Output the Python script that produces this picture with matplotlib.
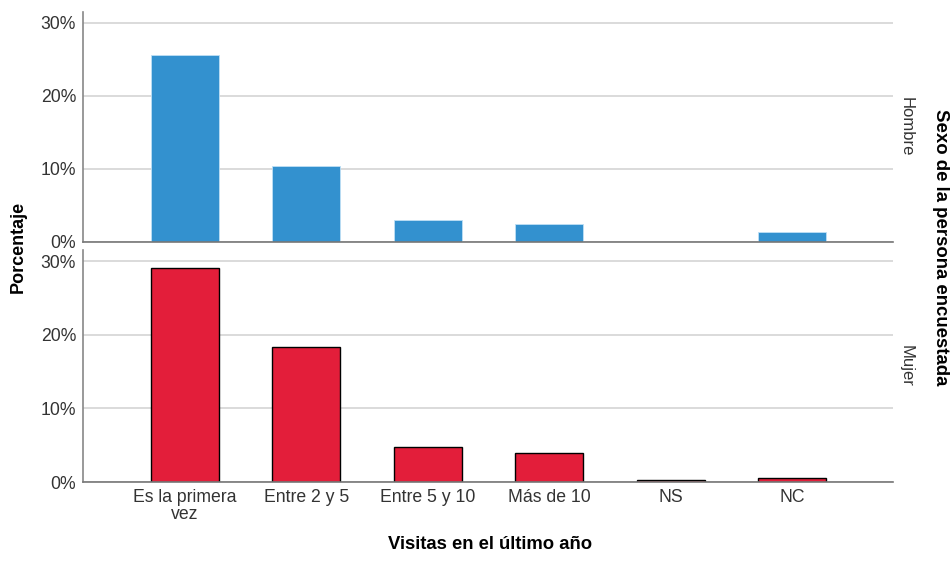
import numpy as np
import matplotlib.pyplot as plt
from matplotlib.ticker import FuncFormatter

plt.rcParams['font.family'] = ['Liberation Sans', 'DejaVu Sans']

categorias = ['Es la primera\nvez', 'Entre 2 y 5', 'Entre 5 y 10', 'Más de 10', 'NS', 'NC']
hombre = [25.6, 10.4, 3.0, 2.4, 0.0, 1.4]
mujer = [29.0, 18.3, 4.7, 3.9, 0.25, 0.5]
grupos = ['Hombre', 'Mujer']

azul = '#3391CF'
rojo = '#E31E3A'

fig = plt.figure(figsize=(9.52, 5.62), dpi=100)
ax1 = fig.add_axes([0.0872, 0.5694, 0.8508, 0.4092])
ax2 = fig.add_axes([0.0872, 0.1423, 0.8508, 0.4127])

x = np.arange(len(categorias))

def estilo(ax):
    ax.set_xlim(-0.84, 5.83)
    ax.set_ylim(0, 31.5)
    ax.set_yticks([0, 10, 20, 30])
    ax.yaxis.set_major_formatter(FuncFormatter(lambda v, p: f'{v:.0f}%'))
    ax.grid(axis='y', color='#D4D4D4', linewidth=1.2)
    ax.set_axisbelow(True)
    for s in ['top', 'right']:
        ax.spines[s].set_visible(False)
    ax.spines['left'].set_color('#888888')
    ax.spines['bottom'].set_color('#777777')
    ax.spines['left'].set_linewidth(1.2)
    ax.spines['bottom'].set_linewidth(1.2)
    ax.tick_params(length=0, labelsize=12.7, colors='#333333', pad=5)

ax1.bar(x, hombre, width=0.56, color=azul, edgecolor='#BFE0F5', linewidth=0.6)
estilo(ax1)
ax1.set_xticks([])

ax2.bar(x, mujer, width=0.56, color=rojo, edgecolor='black', linewidth=1.0)
estilo(ax2)
ax2.set_xticks(x)
ax2.set_xticklabels(categorias, linespacing=1.0)

for ax, g in zip([ax1, ax2], grupos):
    ax.text(1.016, 0.5, g, transform=ax.transAxes, rotation=-90,
            ha='center', va='center', fontsize=12, color='#333333')

fig.text(0.019, 0.56, 'Porcentaje', rotation=90, ha='center', va='center',
         fontsize=13, fontweight='bold')
fig.text(0.515, 0.016, 'Visitas en el último año', ha='center', va='bottom',
         fontsize=13.3, fontweight='bold')
fig.text(0.988, 0.56, 'Sexo de la persona encuestada', rotation=-90,
         ha='center', va='center', fontsize=13.4, fontweight='bold')

fig.savefig('out.png', dpi=100)
